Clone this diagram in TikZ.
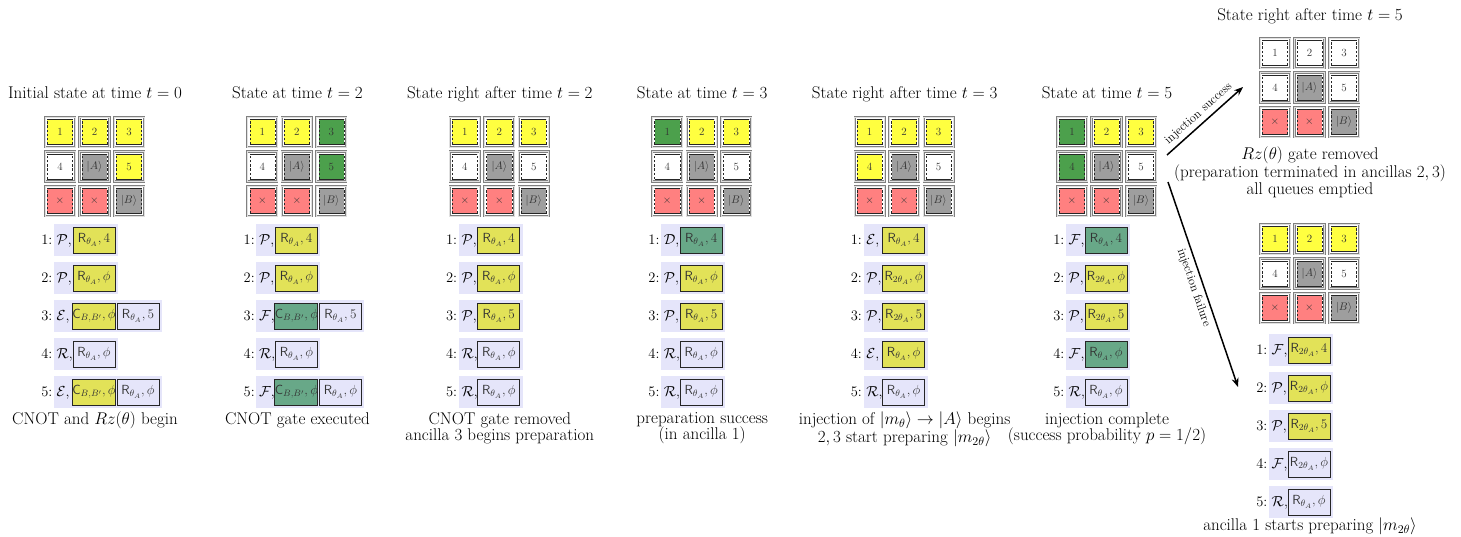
\documentclass[tikz,border=0pt]{standalone}
\usetikzlibrary{arrows.meta}

% scalable math fonts at every size
\DeclareFontShape{OML}{cmm}{m}{it}{<-6>cmmi5<6-7>cmmi6<7-8>cmmi7<8-9>cmmi8<9-10>cmmi9<10-12>cmmi10<12->cmmi12}{}
\DeclareFontShape{OMS}{cmsy}{m}{n}{<-6>cmsy5<6-7>cmsy6<7-8>cmsy7<8-9>cmsy8<9-10>cmsy9<10->cmsy10}{}
\DeclareFontShape{OMX}{cmex}{m}{n}{<->cmex10}{}
\DeclareFontShape{OT1}{cmr}{m}{n}{<-6>cmr5<6-7>cmr6<7-8>cmr7<8-9>cmr8<9-10>cmr9<10-12>cmr10<12-17>cmr12<17->cmr17}{}
\DeclareFontShape{OT1}{cmss}{m}{n}{<-9>cmss8<9-10>cmss9<10-12>cmss10<12-17>cmss12<17->cmss17}{}

% patch colours
\definecolor{cyel}{RGB}{255,255,64}
\definecolor{cgrn}{RGB}{76,160,76}
\definecolor{cred}{RGB}{255,128,128}
\definecolor{cgry}{RGB}{158,158,158}
% queue colours
\definecolor{qyel}{RGB}{226,226,88}
\definecolor{qgrn}{RGB}{104,168,136}
\definecolor{lav}{RGB}{229,229,250}

\newcommand\dgmMain{\fontsize{17}{16.8}\selectfont}
\newcommand\dgmRow{\fontsize{14.5}{15}\selectfont}
\newcommand\dgmBox{\fontsize{13.2}{14}\selectfont}
\newcommand\dgmCell{\fontsize{11}{12}\selectfont}
\newcommand\dgmArr{\fontsize{12.2}{13}\selectfont}

% queue entries
\newcommand\qRa[1]{$\mathsf{R}_{\theta_A},#1$}
\newcommand\qRb[1]{$\mathsf{R}_{2\theta_A},#1$}
\newcommand\qCb{$\mathsf{C}_{B,B'},\phi$}

\tikzset{
  cell/.style={draw=black!50, double=black!12, double distance=1pt, line width=0.55pt,
    minimum size=30pt, inner sep=0pt, font=\dgmCell, text=black!80,
    path picture={
      \fill[#1] ([shift={(2.4pt,2.4pt)}]path picture bounding box.south west)
        rectangle ([shift={(-2.4pt,-2.4pt)}]path picture bounding box.north east);
      \draw[black!85, line width=0.5pt]
        ([shift={(2.4pt,2.4pt)}]path picture bounding box.south west) --
        ([shift={(-2.4pt,2.4pt)}]path picture bounding box.south east)
        ([shift={(2.4pt,-2.4pt)}]path picture bounding box.north west) --
        ([shift={(-2.4pt,-2.4pt)}]path picture bounding box.north east);
      \draw[black!85, line width=0.5pt, dash pattern=on 2.4pt off 1.8pt]
        ([shift={(2.4pt,2.4pt)}]path picture bounding box.south west) --
        ([shift={(2.4pt,-2.4pt)}]path picture bounding box.north west)
        ([shift={(-2.4pt,2.4pt)}]path picture bounding box.south east) --
        ([shift={(-2.4pt,-2.4pt)}]path picture bounding box.north east);
    }},
  qbg/.style={fill=lav, minimum height=32pt, inner sep=0pt},
  qbox/.style={draw=black!85, line width=0.9pt, minimum width=42pt, minimum height=26pt,
    inner sep=0pt, font=\dgmBox, text=black!80},
  qnum/.style={anchor=base east, inner sep=0pt, font=\dgmRow},
  qlet/.style={anchor=base west, inner sep=0pt, font=\dgmRow},
  ttl/.style={anchor=base, inner sep=0pt, font=\dgmMain},
  captext/.style={anchor=north, inner sep=0pt, align=center, font=\dgmMain},
  outarrow/.style={line width=1.5pt, -{Stealth[length=9pt,width=7pt]}},
  alab/.style={font=\dgmArr, sloped, inner sep=3.5pt},
}

% 3x3 patch grid: prefix, left, top, colours of cells 1,2,3,4,5
\newcommand\grid[8]{%
  \node[cell=#4] (#1-1) at ({#2+16},{#3+16}) {1};
  \node[cell=#5] (#1-2) at ({#2+50.5},{#3+16}) {2};
  \node[cell=#6] (#1-3) at ({#2+85},{#3+16}) {3};
  \node[cell=#7] (#1-4) at ({#2+16},{#3+50.5}) {4};
  \node[cell=cgry] (#1-A) at ({#2+50.5},{#3+50.5}) {$|A\rangle$};
  \node[cell=#8] (#1-5) at ({#2+85},{#3+50.5}) {5};
  \node[cell=cred] (#1-x1) at ({#2+16},{#3+85}) {$\times$};
  \node[cell=cred] (#1-x2) at ({#2+50.5},{#3+85}) {$\times$};
  \node[cell=cgry] (#1-B) at ({#2+85},{#3+85}) {$|B\rangle$};
}
% queue row with one entry: name, left, top, number, letter, fill, text
\newcommand\qone[7]{%
  \node[qbg, minimum width=64pt] (#1) at ({#2+32},{#3+16}) {};
  \node[qnum] (#1-n) at ({#2-1.5},{#3+20}) {#4:};
  \node[qlet] (#1-l) at ({#2+2.5},{#3+20}) {$\mathcal{#5}$,};
  \node[qbox, fill=#6] (#1-b1) at ({#2+40},{#3+16}) {#7};
}
% queue row with two entries
\newcommand\qtwo[9]{%
  \node[qbg, minimum width=108pt] (#1) at ({#2+54},{#3+16}) {};
  \node[qnum] (#1-n) at ({#2-1.5},{#3+20}) {#4:};
  \node[qlet] (#1-l) at ({#2+2.5},{#3+20}) {$\mathcal{#5}$,};
  \node[qbox, fill=#6] (#1-b1) at ({#2+40},{#3+16}) {#7};
  \node[qbox, fill=#8] (#1-b2) at ({#2+84},{#3+16}) {#9};
}

\begin{document}
\begin{tikzpicture}[x=1pt,y=-1pt]
\useasboundingbox (0,0) rectangle (1461,536);

% t = 0
\begin{scope}[shift={(95,0)}]
  \node[ttl] (ti0) at (0,98) {Initial state at time $t=0$};
  \grid{g0}{-51}{116}{cyel}{cyel}{cyel}{white}{cyel}
  \qone{q0a}{-41}{224}{1}{P}{qyel}{\qRa{4}}
  \qone{q0b}{-41}{262}{2}{P}{qyel}{\qRa{\phi}}
  \qtwo{q0c}{-41}{300}{3}{E}{qyel}{\qCb}{lav}{\qRa{5}}
  \qone{q0d}{-41}{338}{4}{R}{lav}{\qRa{\phi}}
  \qtwo{q0e}{-41}{376}{5}{E}{qyel}{\qCb}{lav}{\qRa{\phi}}
  \node[captext] (ca0) at (0,412) {CNOT and $Rz(\theta)$ begin};
\end{scope}

% t = 2
\begin{scope}[shift={(297.4,0)}]
  \node[ttl] (ti1) at (0,98) {State at time $t=2$};
  \grid{g1}{-51}{116}{cyel}{cyel}{cgrn}{white}{cgrn}
  \qone{q1a}{-41}{224}{1}{P}{qyel}{\qRa{4}}
  \qone{q1b}{-41}{262}{2}{P}{qyel}{\qRa{\phi}}
  \qtwo{q1c}{-41}{300}{3}{F}{qgrn}{\qCb}{lav}{\qRa{5}}
  \qone{q1d}{-41}{338}{4}{R}{lav}{\qRa{\phi}}
  \qtwo{q1e}{-41}{376}{5}{F}{qgrn}{\qCb}{lav}{\qRa{\phi}}
  \node[captext] (ca1) at (0,412) {CNOT gate executed};
\end{scope}

% right after t = 2
\begin{scope}[shift={(499.8,0)}]
  \node[ttl] (ti2) at (0,98) {State right after time $t=2$};
  \grid{g2}{-51}{116}{cyel}{cyel}{cyel}{white}{white}
  \qone{q2a}{-41}{224}{1}{P}{qyel}{\qRa{4}}
  \qone{q2b}{-41}{262}{2}{P}{qyel}{\qRa{\phi}}
  \qone{q2c}{-41}{300}{3}{P}{qyel}{\qRa{5}}
  \qone{q2d}{-41}{338}{4}{R}{lav}{\qRa{\phi}}
  \qone{q2e}{-41}{376}{5}{R}{lav}{\qRa{\phi}}
  \node[captext] (ca2) at (0,412) {CNOT gate removed\\ancilla 3 begins preparation};
\end{scope}

% t = 3
\begin{scope}[shift={(702.2,0)}]
  \node[ttl] (ti3) at (0,98) {State at time $t=3$};
  \grid{g3}{-51}{116}{cgrn}{cyel}{cyel}{white}{white}
  \qone{q3a}{-41}{224}{1}{D}{qgrn}{\qRa{4}}
  \qone{q3b}{-41}{262}{2}{P}{qyel}{\qRa{\phi}}
  \qone{q3c}{-41}{300}{3}{P}{qyel}{\qRa{5}}
  \qone{q3d}{-41}{338}{4}{R}{lav}{\qRa{\phi}}
  \qone{q3e}{-41}{376}{5}{R}{lav}{\qRa{\phi}}
  \node[captext] (ca3) at (0,412) {preparation success\\(in ancilla 1)};
\end{scope}

% right after t = 3
\begin{scope}[shift={(904.6,0)}]
  \node[ttl] (ti4) at (0,98) {State right after time $t=3$};
  \grid{g4}{-51}{116}{cyel}{cyel}{cyel}{cyel}{white}
  \qone{q4a}{-41}{224}{1}{E}{qyel}{\qRa{4}}
  \qone{q4b}{-41}{262}{2}{P}{qyel}{\qRb{\phi}}
  \qone{q4c}{-41}{300}{3}{P}{qyel}{\qRb{5}}
  \qone{q4d}{-41}{338}{4}{E}{qyel}{\qRa{\phi}}
  \qone{q4e}{-41}{376}{5}{R}{lav}{\qRa{\phi}}
  \node[captext] (ca4) at (0,412) {injection of $|m_\theta\rangle\to|A\rangle$ begins\\$2,3$ start preparing $|m_{2\theta}\rangle$};
\end{scope}

% t = 5
\begin{scope}[shift={(1107,0)}]
  \node[ttl] (ti5) at (0,98) {State at time $t=5$};
  \grid{g5}{-51}{116}{cgrn}{cyel}{cyel}{cgrn}{white}
  \qone{q5a}{-41}{224}{1}{F}{qgrn}{\qRa{4}}
  \qone{q5b}{-41}{262}{2}{P}{qyel}{\qRb{\phi}}
  \qone{q5c}{-41}{300}{3}{P}{qyel}{\qRb{5}}
  \qone{q5d}{-41}{338}{4}{F}{qgrn}{\qRa{\phi}}
  \qone{q5e}{-41}{376}{5}{R}{lav}{\qRa{\phi}}
  \node[captext] (ca5) at (0,412) {injection complete\\(success probability $p=1/2$)};
\end{scope}

% right after t = 5, injection success
\begin{scope}[shift={(1310,0)}]
  \node[ttl] (ti6) at (0,20) {State right after time $t=5$};
  \grid{g6}{-51}{37}{white}{white}{white}{white}{white}
  \node[captext] (ca6) at (0,147) {$Rz(\theta)$ gate removed\\(preparation terminated in ancillas $2,3$)\\all queues emptied};
\end{scope}

% right after t = 5, injection failure
\begin{scope}[shift={(1310,0)}]
  \grid{g7}{-51}{223}{cyel}{cyel}{cyel}{white}{white}
  \qone{q7a}{-41}{334}{1}{F}{qyel}{\qRb{4}}
  \qone{q7b}{-41}{372}{2}{P}{qyel}{\qRb{\phi}}
  \qone{q7c}{-41}{410}{3}{P}{qyel}{\qRb{5}}
  \qone{q7d}{-41}{448}{4}{F}{lav}{\qRb{\phi}}
  \qone{q7e}{-41}{486}{5}{R}{lav}{\qRa{\phi}}
  \node[captext] (ca7) at (0,518) {ancilla 1 starts preparing $|m_{2\theta}\rangle$};
\end{scope}

% outcome arrows
\coordinate (succA) at (1167,155);
\coordinate (succB) at (1243,87);
\coordinate (failA) at (1168,182);
\coordinate (failB) at (1238,387);
\draw[outarrow] (succA) -- node[alab, above] {injection success} (succB);
\draw[outarrow] (failA) -- node[alab, below] {injection failure} (failB);
\end{tikzpicture}
\end{document}
